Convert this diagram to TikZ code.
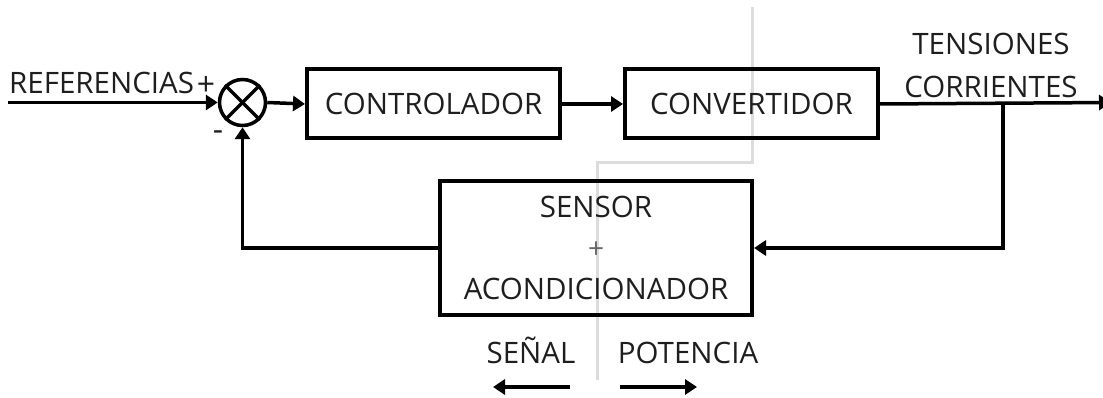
\documentclass[tikz,border=0pt]{standalone}
\usepackage{fontspec}
\setmainfont{Open Sans}
\usetikzlibrary{arrows.meta,calc}
\definecolor{ink}{RGB}{30,30,30}
\definecolor{divider}{RGB}{220,220,220}
\tikzset{
  blockbox/.style={draw=black, line width=4pt, minimum height=69pt, inner sep=0pt, text=ink, font=\fontsize{29.5}{34}\selectfont},
  wire/.style={draw=black, line width=3.5pt},
  arrowwire/.style={wire, -{Triangle[length=12pt,width=15pt]}},
  label/.style={text=ink, font=\fontsize{29.5}{34}\selectfont, inner sep=0pt},
  sign/.style={text=ink, font=\fontsize{32}{36}\selectfont, inner sep=0pt},
}
\begin{document}
\begin{tikzpicture}[x=1pt,y=-1pt]
\useasboundingbox (0,0) rectangle (1103,398);

% signal / power divider
\draw[divider, line width=3pt] (752,7) -- (752,163) -- (597,163) -- (597,380);

% blocks
\node[draw=black, line width=3.5pt, circle, minimum size=46pt, inner sep=0pt] (sum) at (242.5,102.5) {};
\draw[line width=3.5pt] (sum.north west) -- (sum.south east);
\draw[line width=3.5pt] (sum.north east) -- (sum.south west);
\node[blockbox, minimum width=253pt] (ctrl) at (433.5,104) {CONTROLADOR};
\node[blockbox, minimum width=253pt] (conv) at (751.5,104) {CONVERTIDOR};
\node[blockbox, minimum width=312pt, minimum height=133pt] (sensor) at (596,248) {};
\node[label, anchor=base] (s1) at (596,218) {SENSOR};
\node[label, font=\fontsize{28}{32}\selectfont, text=black!60] (s2) at (596,250) {+};
\node[label, anchor=base] (s3) at (596,299) {ACONDICIONADOR};

% signal path
\coordinate (in) at (8,102.5);
\coordinate (out) at (1111,102.5);
\coordinate (branch) at (1003,102.5);
\draw[arrowwire] (in) -- (sum.west);
\draw[arrowwire] (sum.east) -- (ctrl.west);
\draw[arrowwire] (ctrl.east) -- (conv.west);
\draw[arrowwire] (conv.east) -- (out);
\draw[arrowwire] (branch) |- (sensor.east);
\draw[arrowwire] (sensor.west) -| (sum.south);

% labels
\node[label, anchor=base west] (ref) at (9,94) {REFERENCIAS};
\node[sign] (plus) at (206,86) {+};
\node[sign] (minus) at (218,136) {-};
\node[label, anchor=base] (ten) at (991,55) {TENSIONES};
\node[label, anchor=base] (cor) at (991,98) {CORRIENTES};
\node[label, anchor=base] (senal) at (531,363) {SEÑAL};
\node[label, anchor=base] (pot) at (688,363) {POTENCIA};

% direction arrows
\coordinate (la) at (570,387);
\coordinate (lb) at (493,387);
\coordinate (ra) at (620,387);
\coordinate (rb) at (697,387);
\draw[arrowwire] (la) -- (lb);
\draw[arrowwire] (ra) -- (rb);
\end{tikzpicture}
\end{document}
